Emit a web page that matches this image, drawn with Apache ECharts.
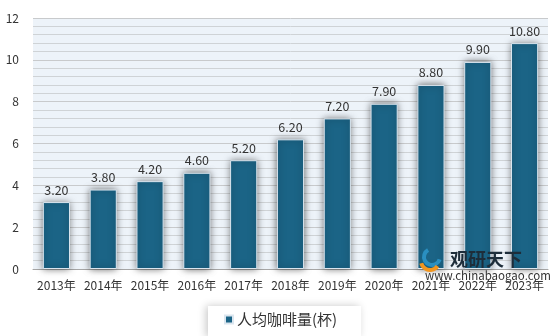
<!DOCTYPE html>
<html>
<head>
<meta charset="utf-8">
<script src="https://cdn.jsdelivr.net/npm/echarts@6/dist/echarts.min.js"></script>
<style>
  html, body { margin: 0; padding: 0; background: #fff; }
  #chart { width: 560px; height: 336px; }
</style>
</head>
<body>
<div id="chart"></div>
<script>
const years = ["2013年", "2014年", "2015年", "2016年", "2017年", "2018年", "2019年", "2020年", "2021年", "2022年", "2023年"];
const cups = [3.2, 3.8, 4.2, 4.6, 5.2, 6.2, 7.2, 7.9, 8.8, 9.9, 10.8];
const seriesName = "人均咖啡量(杯)";

const chart = echarts.init(document.getElementById("chart"));

const font = "'Noto Sans CJK SC', 'Noto Sans', sans-serif";

chart.setOption({
    backgroundColor: "#fff",
    textStyle: { fontFamily: font },
    grid: { left: 33, right: 12, top: 18, bottom: 67 },
    xAxis: {
        type: "category",
        data: years,
        axisLine: { lineStyle: { color: "#a6a6a6", width: 1 } },
        axisTick: { show: false },
        axisLabel: { color: "#333", fontSize: 12, margin: 10, interval: 0 }
    },
    yAxis: {
        type: "value",
        min: 0,
        max: 12,
        interval: 2,
        axisLine: { show: false },
        axisTick: { show: false },
        axisLabel: { color: "#333", fontSize: 12, margin: 14 },
        splitLine: { lineStyle: { color: "#c8cacc", width: 1 } },
        minorTick: { show: false, splitNumber: 5 },
        minorSplitLine: { show: true, lineStyle: { color: "#cfd3d6", width: 1 } },
        splitArea: { show: true, areaStyle: { color: ["#edf3f9", "#edf3f9"] } }
    },
    legend: {
        top: 306,
        left: 208,
        itemWidth: 8,
        itemHeight: 8,
        itemGap: 6,
        icon: "rect",
        padding: [6, 24, 10, 16],
        backgroundColor: "#fff",
        shadowBlur: 8,
        shadowOffsetX: -2,
        shadowColor: "rgba(0,0,0,0.22)",
        textStyle: { color: "#333", fontSize: 15, padding: [0, 0, 0, -1] },
        data: [seriesName]
    },
    series: [{
        name: seriesName,
        type: "bar",
        data: cups,
        barWidth: "58%",
        itemStyle: {
            color: "#1b6486",
            borderColor: "#dbe6ef",
            borderWidth: 1,
            shadowBlur: 7,
            shadowColor: "rgba(0,0,0,0.55)",
            shadowOffsetX: 0,
            shadowOffsetY: 0
        },
        label: {
            show: true,
            position: "top",
            distance: 6,
            color: "#333",
            fontSize: 12.5,
            formatter: p => p.value.toFixed(2)
        }
    }],
    graphic: [{
        type: "arc",
        z: 100,
        shape: { cx: 432, cy: 257, r: 8, startAngle: 0.3, endAngle: 4.2 },
        style: { stroke: "#2a8fc0", lineWidth: 4, fill: null }
    }, {
        type: "arc",
        z: 100,
        shape: { cx: 430, cy: 261, r: 9, startAngle: 0.6, endAngle: 2.9 },
        style: { stroke: "#f2961f", lineWidth: 4, fill: null }
    }, {
        type: "text",
        z: 100,
        left: 450,
        top: 250,
        style: { text: "观研天下", fill: "#1d2d3a", font: "bold 18px " + font }
    }, {
        type: "text",
        z: 100,
        left: 425,
        top: 270,
        style: { text: "www.chinabaogao.com", fill: "#333", font: "11.5px " + font }
    }]
});
</script>
</body>
</html>
